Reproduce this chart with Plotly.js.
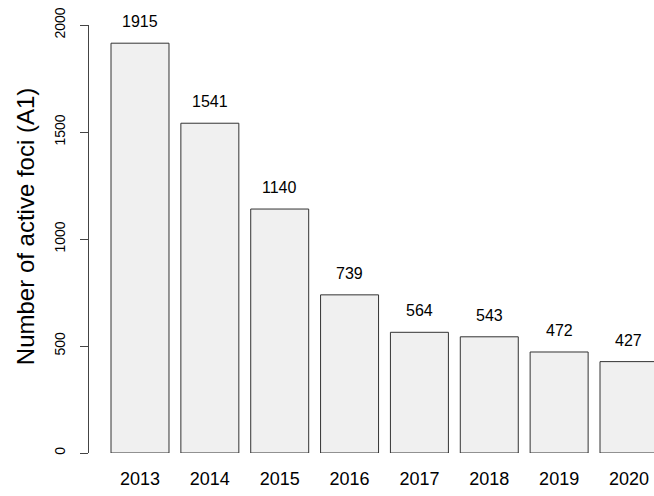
<!DOCTYPE html>
<html>
<head>
<meta charset="utf-8">
<script src="https://cdn.plot.ly/plotly-3.0.1.min.js"></script>
<style>html,body{margin:0;padding:0;background:#fff;}#chart{width:654px;height:496px;}</style>
</head>
<body>
<div id="chart"></div>
<script>
const years = ["2013", "2014", "2015", "2016", "2017", "2018", "2019", "2020"];
const foci = [1915, 1541, 1140, 739, 564, 543, 472, 427];
const yTicks = [0, 500, 1000, 1500, 2000];
const yTitle = "Number of active foci (A1)";

const FONT = '"Liberation Sans", Arial, Helvetica, sans-serif';

const trace = {
  type: 'bar',
  x: years,
  y: foci,
  marker: {color: '#f0f0f0', line: {color: '#333333', width: 1}},
  hoverinfo: 'none'
};

const annotations = years.map((yr, i) => ({
  x: i, y: foci[i], xref: 'x', yref: 'y',
  text: String(foci[i]), showarrow: false,
  yanchor: 'bottom', yshift: 11,
  font: {family: FONT, size: 16, color: '#000'}
}));

annotations.push({
  xref: 'paper', yref: 'paper', x: -0.1133, y: 0.530,
  xanchor: 'center', yanchor: 'middle', textangle: -90,
  text: yTitle, showarrow: false,
  font: {family: FONT, size: 24, color: '#000'}
});

const layout = {
  width: 654, height: 496,
  margin: {l: 89, r: 0, t: 25, b: 43, pad: 0},
  paper_bgcolor: '#ffffff', plot_bgcolor: '#ffffff',
  font: {family: FONT, color: '#000'},
  showlegend: false,
  bargap: 0.17,
  xaxis: {
    type: 'category', range: [-0.73, 7.358],
    showline: false, showgrid: false, zeroline: false,
    ticks: '', tickfont: {family: FONT, size: 18, color: '#000'},
    ticklabelstandoff: 13
  },
  yaxis: {
    range: [0, 2000], tickvals: yTicks, ticktext: yTicks.map(String),
    showline: true, linecolor: '#444', linewidth: 1,
    showgrid: false, zeroline: false,
    ticks: 'outside', ticklen: 8, tickcolor: '#444', tickwidth: 1,
    tickangle: -90, tickfont: {family: FONT, size: 14, color: '#000'},
    ticklabelstandoff: 9,
    automargin: false
  },
  annotations: annotations
};

Plotly.newPlot('chart', [trace], layout, {displayModeBar: false, staticPlot: true});
</script>
</body>
</html>
